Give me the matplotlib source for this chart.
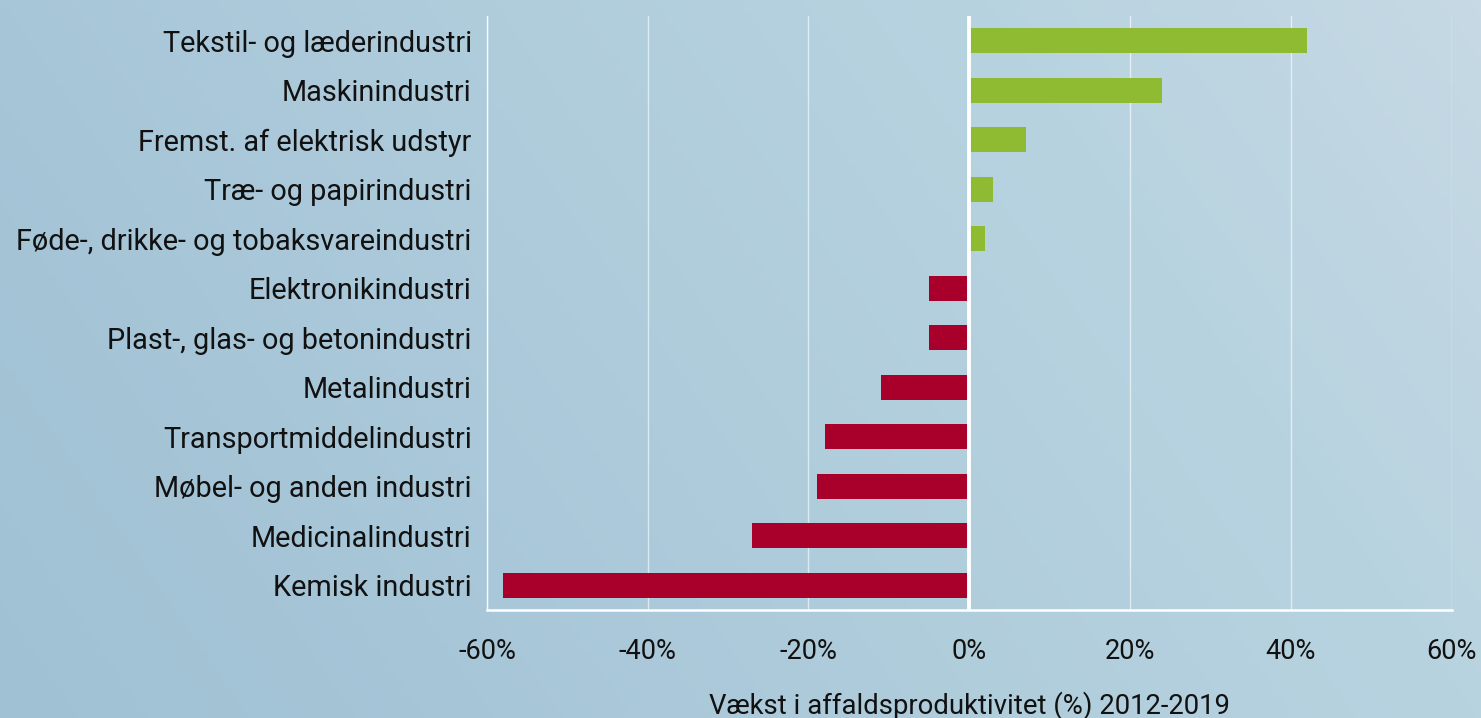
import numpy as np
import matplotlib
matplotlib.use("Agg")
import matplotlib.pyplot as plt
from matplotlib.colors import LinearSegmentedColormap

plt.rcParams['font.family'] = ['Roboto', 'DejaVu Sans']

categories = [
    "Tekstil- og læderindustri",
    "Maskinindustri",
    "Fremst. af elektrisk udstyr",
    "Træ- og papirindustri",
    "Føde-, drikke- og tobaksvareindustri",
    "Elektronikindustri",
    "Plast-, glas- og betonindustri",
    "Metalindustri",
    "Transportmiddelindustri",
    "Møbel- og anden industri",
    "Medicinalindustri",
    "Kemisk industri",
]
growth_pct = [42, 24, 7, 3, 2, -5, -5, -11, -18, -19, -27, -58]
x_ticks = [-60, -40, -20, 0, 20, 40, 60]
x_label = "Vækst i affaldsproduktivitet (%) 2012-2019"

GREEN = "#8fbb32"
RED = "#a8002a"
TEXT = "#111111"

fig = plt.figure(figsize=(14.81, 7.18), dpi=100)

# background gradient: darker at lower left, lighter toward upper right
bg = fig.add_axes([0, 0, 1, 1], zorder=-10)
gx, gy = np.meshgrid(np.linspace(0, 1, 400), np.linspace(0, 1, 200))
grad = 0.75 * gx + 0.25 * gy
cmap = LinearSegmentedColormap.from_list(
    "bg",
    [(0.0, "#a0c1d4"), (0.25, "#a7c6d8"), (0.5, "#b0cddc"),
     (0.75, "#b8d3e0"), (1.0, "#c6d9e4")])
bg.imshow(grad, cmap=cmap, aspect="auto", origin="lower", extent=[0, 1, 0, 1])
bg.axis("off")

ax = fig.add_axes([0.3288, 0.1504, 0.6513, 0.8273])
ax.set_facecolor("none")

y = np.arange(len(categories))
colors = [GREEN if v >= 0 else RED for v in growth_pct]
ax.barh(y, growth_pct, height=0.5, color=colors, zorder=3)

ax.set_ylim(len(categories) - 0.5, -0.5)
ax.set_xlim(-60, 60)
ax.set_xticks(x_ticks)
ax.set_xticklabels([f"{t}%" for t in x_ticks])
ax.set_yticks(y)
ax.set_yticklabels(categories)

ax.grid(axis="x", color="white", alpha=0.6, linewidth=1.0, zorder=1)
ax.axvline(0, color="white", linewidth=2.8, zorder=4)

for side in ("top", "right"):
    ax.spines[side].set_visible(False)
ax.spines["left"].set_color("white")
ax.spines["left"].set_linewidth(1.0)
ax.spines["left"].set_alpha(0.8)
ax.spines["bottom"].set_color("white")
ax.spines["bottom"].set_linewidth(1.8)

ax.tick_params(axis="y", length=0, pad=11, labelsize=20.8, labelcolor=TEXT)
ax.tick_params(axis="x", length=0, pad=20, labelsize=19.5, labelcolor=TEXT)
ax.set_xlabel(x_label, fontsize=19.8, color=TEXT)
ax.xaxis.set_label_coords(0.5, -0.136)

fig.savefig("out.png", dpi=100)
